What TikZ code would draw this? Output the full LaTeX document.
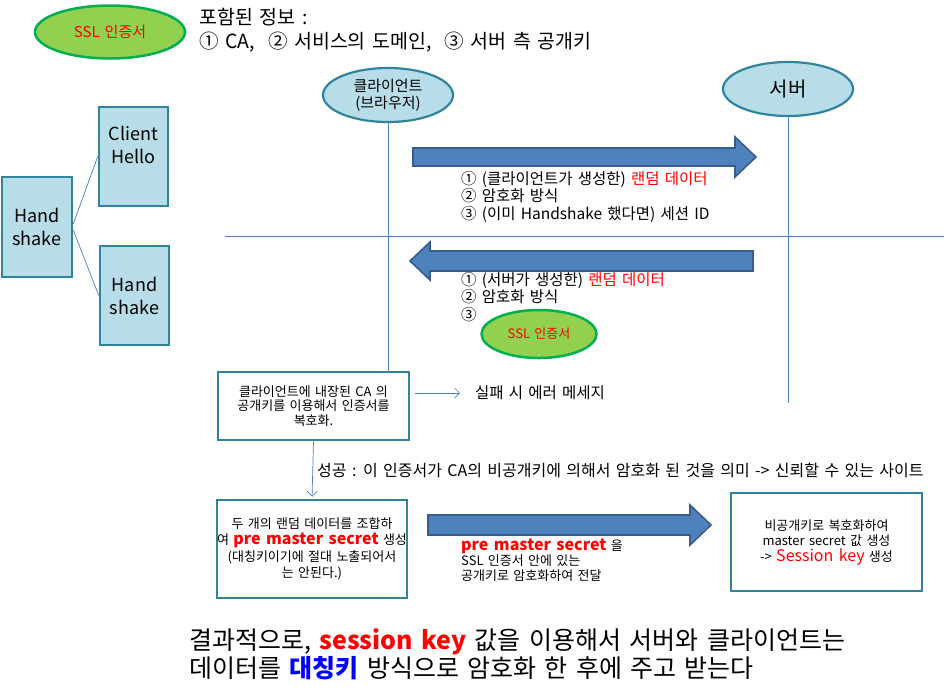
\documentclass[tikz,border=0pt]{standalone}
\usepackage{fontspec}
\setmainfont{Noto Sans CJK KR}[WordSpace=1.5]
\usepackage{tikz}
\usetikzlibrary{arrows.meta,shapes.geometric,positioning}
\definecolor{boxfill}{HTML}{B7DDE8}
\definecolor{boxline}{HTML}{31849B}
\definecolor{arrowfill}{HTML}{4F81BD}
\definecolor{arrowline}{HTML}{385D8A}
\definecolor{certfill}{HTML}{92D050}
\definecolor{certline}{HTML}{00B050}
\definecolor{wireblue}{HTML}{4A7EBB}
\definecolor{hotred}{HTML}{FF0000}
\definecolor{keyblue}{HTML}{0000FF}
\newcommand{\fs}[2]{\fontsize{#1}{#2}\selectfont}
\tikzset{
  certnode/.style={
    ellipse,
    draw=certline,
    fill=certfill,
    line width=2.5pt,
    inner sep=0pt,
    text=hotred
  },
  partynode/.style={
    ellipse,
    draw=boxline,
    fill=boxfill,
    line width=2.2pt,
    inner sep=0pt,
    align=center,
    minimum width=130pt,
    minimum height=54pt
  },
  tealbox/.style={
    draw=boxline,
    fill=boxfill,
    line width=2.5pt,
    inner sep=0pt,
    align=center,
    font=\fs{18}{23}
  },
  notebox/.style={
    draw=boxline,
    fill=white,
    line width=2.5pt,
    inner sep=0pt,
    align=center
  },
  msgtext/.style={
    anchor=north west,
    inner sep=0pt,
    align=left,
    font=\fs{15.5}{17.5}
  },
  wire/.style={
    draw=wireblue,
    line width=0.7pt
  },
  thinarrow/.style={
    wire,
    -{Straight Barb[length=5pt,width=10pt]}
  },
  fatarrow/.style={
    draw=arrowline,
    fill=arrowfill,
    line width=1.6pt,
    line join=miter
  }
}

\begin{document}
\begin{tikzpicture}[x=1pt,y=-1pt]
  \useasboundingbox (0,0) rectangle (944,697);

  % certificate legend
  \node[certnode, minimum width=150pt, minimum height=53pt, font=\fs{15}{17}] (cert) at (110,32) {SSL 인증서};
  \node[anchor=west, inner sep=0pt, align=left, font=\fs{19.5}{24}] (certinfo) at (199,30)
    {포함된 정보 :\\① CA,~ ② 서비스의 도메인,~ ③ 서버 측 공개키};

  % handshake tree
  \node[tealbox, minimum width=70pt, minimum height=100pt] (hs) at (37,227) {Hand\\shake};
  \node[tealbox, minimum width=69pt, minimum height=99pt] (hello) at (133.5,156.5) {Client\\Hello\\\mbox{}};
  \node[tealbox, minimum width=69pt, minimum height=99pt] (hsnext) at (134.5,295.5) {Hand\\shake};
  \draw[wire] ([yshift=3pt]hs.east) -- (hello.west);
  \draw[wire] ([yshift=-3pt]hs.east) -- (hsnext.west);

  % client / server lifelines
  \node[partynode, font=\fs{15}{17}] (client) at (388,95) {클라이언트\\(브라우저)};
  \node[partynode, font=\fs{20}{22}] (server) at (788,89) {서버};
  \coordinate (serverend) at (788,403);
  \coordinate (divleft) at (225,236);
  \coordinate (divright) at (944,236);
  \draw[wire] (server) -- (serverend);
  \draw[wire] (divleft) -- (divright);

  % client hello
  \draw[fatarrow] (413,148) -- (735,148) -- (735,137) -- (756,157) -- (735,177) -- (735,166) -- (413,166) -- cycle;
  \node[msgtext] (hellomsg) at (461,171)
    {① (클라이언트가 생성한) \textcolor{hotred}{랜덤 데이터}\\② 암호화 방식\\③ (이미 Handshake 했다면) 세션 ID};

  % server hello
  \draw[fatarrow] (753,251) -- (430,251) -- (430,242) -- (410,261) -- (430,280) -- (430,271) -- (753,271) -- cycle;
  \node[msgtext] (servermsg) at (461,272)
    {① (서버가 생성한) \textcolor{hotred}{랜덤 데이터}\\② 암호화 방식\\③};
  \node[certnode, minimum width=115pt, minimum height=48pt, font=\fs{13}{15}] (certsmall) at (539,334) {SSL 인증서};

  % certificate check
  \node[notebox, minimum width=191pt, minimum height=68pt, font=\fs{13}{14.5}] (decrypt) at (313.5,406)
    {클라이언트에 내장된 CA 의\\공개키를 이용해서 인증서를\\복호화.};
  \draw[wire] (client) -- (client.south |- decrypt.north);
  \node[anchor=west, inner sep=0pt, font=\fs{15.5}{17}] (fail) at (475,393) {실패 시 에러 메세지};
  \draw[thinarrow, shorten <=5pt, shorten >=15pt] ([yshift=13pt]decrypt.east) -- (fail.west);
  \node[anchor=west, inner sep=0pt, font=\fs{16}{18}] (success) at (317,470)
    {성공 : 이 인증서가 CA의 비공개키에 의해서 암호화 된 것을 의미 -> 신뢰할 수 있는 사이트};

  % key exchange
  \node[notebox, minimum width=190pt, minimum height=98pt, font=\fs{13}{16.5}] (combine) at (312,549)
    {두 개의 랜덤 데이터를 조합하\\여 \textcolor{hotred}{\textbf{\fs{16}{16.5}pre master secret}} 생성\\(대칭키이기에 절대 노출되어서\\는 안된다.)};
  \draw[thinarrow, shorten >=2pt] (decrypt.south) -- (combine.north);
  \draw[fatarrow] (428,515) -- (690,515) -- (690,505) -- (711,525) -- (690,545) -- (690,535) -- (428,535) -- cycle;
  \node[msgtext, font=\fs{13}{15}] (sendmsg) at (461,539)
    {\textcolor{hotred}{\textbf{\fs{16}{15}pre master secret}} 을\\SSL 인증서 안에 있는\\공개키로 암호화하여 전달};
  \node[notebox, minimum width=191pt, minimum height=98pt, font=\fs{13}{15.5}] (session) at (826.5,542)
    {비공개키로 복호화하여\\master secret 값 생성\\-> \textcolor{hotred}{\fs{16}{15.5}Session key} 생성};

  % summary
  \node[anchor=west, inner sep=0pt, align=left, font=\fs{25}{28}] (summary) at (189,654)
    {결과적으로, \textcolor{hotred}{\textbf{session key}} 값을 이용해서 서버와 클라이언트는\\데이터를 \textcolor{keyblue}{\textbf{대칭키}} 방식으로 암호화 한 후에 주고 받는다};
\end{tikzpicture}
\end{document}
